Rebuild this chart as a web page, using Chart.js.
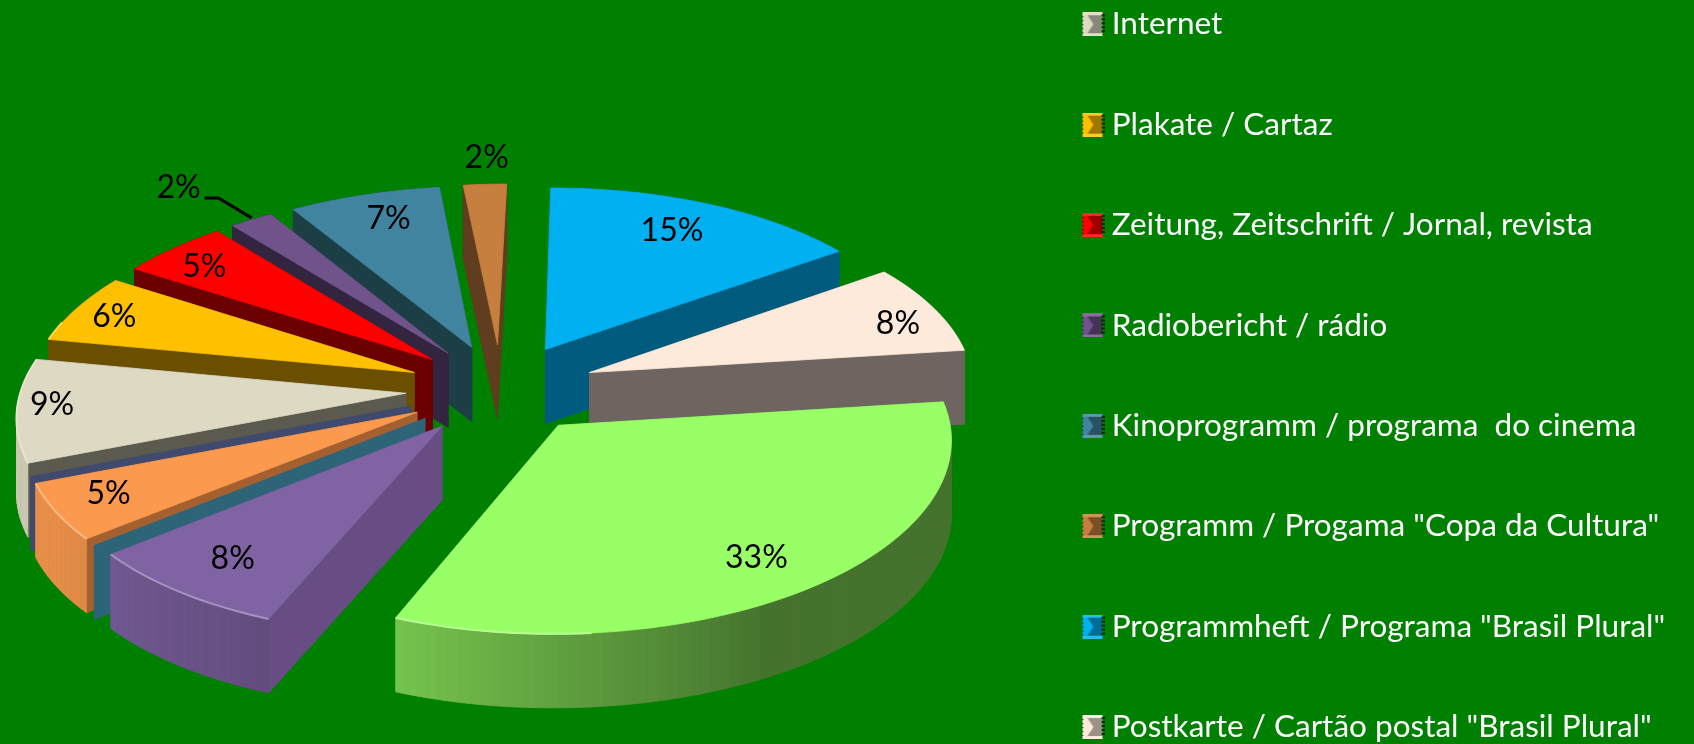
<!DOCTYPE html>
<html><head><meta charset="utf-8">
<script src="https://cdn.jsdelivr.net/npm/chart.js@4"></script>
<style>html,body{margin:0;padding:0;background:#008000;overflow:hidden;width:1694px;height:744px}canvas{display:block}</style>
</head><body><canvas id="c" width="1694" height="930"></canvas>
<script>
const categories=['Internet','Plakate / Cartaz','Zeitung, Zeitschrift / Jornal, revista','Radiobericht / rádio','Kinoprogramm / programa  do cinema','Programm / Progama "Copa da Cultura"','Programmheft / Programa "Brasil Plural"','Postkarte / Cartão postal "Brasil Plural"','(not visible 1)','(not visible 2)','(not visible 3)','(not visible 4)','(not visible 5)'];
const values=[9,6,5,2,7,2,15,8,33,8,0,5,0];
const topColors=['#ddd9c3','#ffc000','#ff0000','#70538a','#40849f','#c67f3e','#00b0f0','#fdeada','#99ff66','#7f63a3','#2e6478','#fb9a4f','#3f4a6e'];
const wallColors=['#5c5a4e','#6b4f00','#6b0000','#33243f','#1c3f45','#5f3d1e','#005b7f','#6f6560','#4a7a35','#684c84','#2e6478','#a56030','#3f4a6e'];
const labelRadius=[.9,.81,.77,1,.78,1.2,.69,.83,.76,.77,0,.85,0];
const labelShiftX=[-4,-25,-26,-8,2,4,11,21,8,-11,0,-4,0];
const labelShiftY=[-4,-4,-6,-3,-8,2,-16,5,12,7,0,-3,0];
const legendCount=8;
const view={cx:501,cy:389,tilt:.475,persp:.09,vanish:110,depth:74,startDeg:248.4,explode:95,radius:385};
const fontFamily='Lato, "Open Sans", sans-serif';

function mix(hex,f){const n=parseInt(hex.slice(1),16);const c=[n>>16,(n>>8)&255,n&255].map(v=>Math.round(f<=1?v*f:v+(255-v)*(f-1)));return `rgb(${c})`;}
function rimShade(a){
  let t=((a*180/Math.PI+90)%360+360)%360;
  if(t<150)return .45; if(t<210)return .45+(t-150)/60*.37; if(t<240)return .82+(t-210)/30*.1; return .92;
}
function markerFor(color){
  const c=document.createElement('canvas');c.width=23;c.height=24;const g=c.getContext('2d');
  g.fillStyle=color;g.fillRect(1,0,20,24);
  g.fillStyle=mix(color,.62);g.beginPath();g.moveTo(6,3);g.lineTo(21,3);g.lineTo(21,21);g.lineTo(6,21);g.lineTo(12,12);g.closePath();g.fill();
  g.fillStyle=mix(color,1.15);g.fillRect(1,0,20,3);g.fillRect(1,21,20,3);
  g.fillStyle='rgba(0,0,0,.65)';for(let y=2;y<22;y+=4){g.fillRect(20,y,3,2);g.fillRect(0,y+2,2,1);}
  return c;
}
function project(arc,x,y,z){
  const s=1/(1-view.persp*y/view.radius);
  return[arc.x+view.vanish+(x-view.vanish)*s,arc.y+y*view.tilt*s+z];
}
const pie3d={id:'pie3d',
  afterLayout(chart){
    const a=chart.chartArea;a.left=0;a.top=0;a.right=view.cx*2;a.bottom=view.cy*2;a.width=a.right;a.height=a.bottom;
    const L=chart.legend,p=L.options.labels.padding;L.left=1090-p;L.top=8.5-p;
  },
  beforeDatasetsDraw(chart){
    const ctx=chart.ctx,arcs=chart.getDatasetMeta(0).data;
    const order=arcs.map((e,i)=>i).sort((i,j)=>{
      const m=e=>Math.sin((e.startAngle+e.endAngle)/2);return m(arcs[i])-m(arcs[j]);});
    const poly=(pts,fill)=>{ctx.beginPath();pts.forEach((p,i)=>i?ctx.lineTo(p[0],p[1]):ctx.moveTo(p[0],p[1]));ctx.closePath();ctx.fillStyle=fill;ctx.strokeStyle=fill;ctx.lineWidth=.8;ctx.fill();ctx.stroke();};
    order.forEach(i=>{
      const e=arcs[i],a0=e.startAngle,a1=e.endAngle,mid=(a0+a1)/2,off=e.options.offset,ox=off*Math.cos(mid),oy=off*Math.sin(mid);
      const r=e.outerRadius,H=view.depth;
      const P=(rad,a,z)=>project(e,ox+rad*Math.cos(a),oy+rad*Math.sin(a),z);
      const n=Math.max(1,Math.ceil((a1-a0)/(Math.PI/120))),rimPts=[];
      for(let k=0;k<=n;k++)rimPts.push(a0+(a1-a0)*k/n);
      const quad=(k)=>[P(r,rimPts[k],0),P(r,rimPts[k+1],0),P(r,rimPts[k+1],H),P(r,rimPts[k],H)];
      if(values[i]>0)for(let k=0;k<n;k++)if(Math.sin(rimPts[k])<=0)poly(quad(k),wallColors[i]);
      const wall=a=>[P(0,a,0),P(r,a,0),P(r,a,H),P(0,a,H)];
      const walls=[a0,a1].sort((x,y)=>Math.sin(x)-Math.sin(y));
      if(values[i]>0){poly(wall(walls[0]),wallColors[i]);poly(wall(walls[1]),wallColors[i]);}else poly(wall(a0),wallColors[i]);
      if(values[i]>0){
        for(let k=0;k<n;k++)if(Math.sin(rimPts[k])>0)poly(quad(k),mix(topColors[i],rimShade((rimPts[k]+rimPts[k+1])/2)));
        const top=[P(0,a0,0)];rimPts.forEach(a=>top.push(P(r,a,0)));poly(top,topColors[i]);
        ctx.beginPath();let begun=false;
        rimPts.forEach(a=>{if(Math.cos(a)<.1&&Math.sin(a)>-.3){const q=P(r,a,0);begun?ctx.lineTo(q[0],q[1]):ctx.moveTo(q[0],q[1]);begun=true;}});
        if(begun){ctx.strokeStyle=mix(topColors[i],1.3);ctx.lineWidth=2;ctx.stroke();}
      }
    });
    return false;
  },
  afterDraw(chart){
    const ctx=chart.ctx,arcs=chart.getDatasetMeta(0).data;
    ctx.save();ctx.font='32px '+fontFamily;ctx.fillStyle='#000';ctx.textAlign='center';ctx.textBaseline='middle';
    arcs.forEach((e,i)=>{
      if(!values[i])return;
      const mid=(e.startAngle+e.endAngle)/2,off=e.options.offset,rr=off+e.outerRadius*labelRadius[i];
      const q=project(e,rr*Math.cos(mid),rr*Math.sin(mid),0);
      if(i===3){
        ctx.fillText(values[i]+'%',q[0]-65+labelShiftX[i],q[1]-29+labelShiftY[i]);
        ctx.beginPath();ctx.moveTo(q[0]-47,q[1]-22);ctx.lineTo(q[0]-33,q[1]-22);ctx.lineTo(q[0],q[1]-2);
        ctx.strokeStyle='#000';ctx.lineWidth=3;ctx.stroke();
      }else ctx.fillText(values[i]+'%',q[0]+labelShiftX[i],q[1]+labelShiftY[i]);
    });
    ctx.restore();
  }
};
new Chart(document.getElementById('c'),{
  type:'pie',
  plugins:[pie3d],
  data:{labels:categories,datasets:[{data:values,backgroundColor:topColors,offset:view.explode,radius:view.radius,borderWidth:0,hoverOffset:0}]},
  options:{responsive:false,animation:false,rotation:view.startDeg,
    plugins:{tooltip:{enabled:false},title:{display:false},
      legend:{position:'right',align:'start',
        labels:{color:'#fff',font:{family:fontFamily,size:31.5},padding:68.9,usePointStyle:true,pointStyleWidth:6,
          generateLabels:()=>categories.slice(0,legendCount).map((t,i)=>({text:t,fillStyle:topColors[i],strokeStyle:topColors[i],pointStyle:markerFor(topColors[i]),fontColor:'#fff',lineWidth:0,hidden:false,index:i}))}}}}
});
</script></body></html>
